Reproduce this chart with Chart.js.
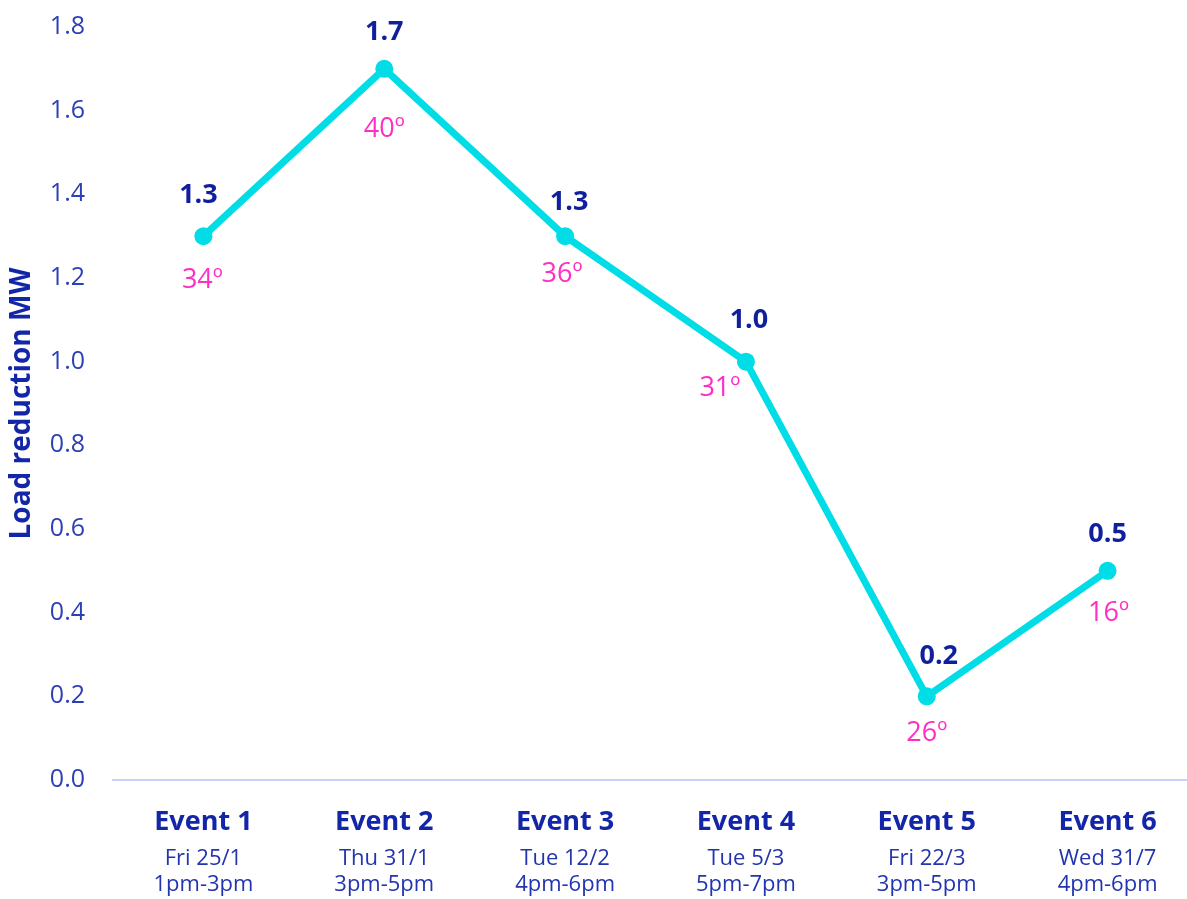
<!DOCTYPE html>
<html>
<head>
<meta charset="utf-8">
<script src="https://cdn.jsdelivr.net/npm/chart.js@4/dist/chart.umd.min.js"></script>
<style>
  html, body { margin: 0; padding: 0; background: #ffffff; overflow: hidden; }
  #wrap { width: 1187px; height: 899px; overflow: hidden; position: relative; }
  canvas { display: block; }
</style>
</head>
<body>
<div id="wrap"><canvas id="c" width="1207" height="899"></canvas></div>
<script>
// ---- Data ----
const events = ["Event 1", "Event 2", "Event 3", "Event 4", "Event 5", "Event 6"];
const eventDates = [
  ["Fri 25/1", "1pm-3pm"],
  ["Thu 31/1", "3pm-5pm"],
  ["Tue 12/2", "4pm-6pm"],
  ["Tue 5/3", "5pm-7pm"],
  ["Fri 22/3", "3pm-5pm"],
  ["Wed 31/7", "4pm-6pm"]
];
const loadReductionMW = [1.3, 1.7, 1.3, 1.0, 0.2, 0.5];
const temperatures = ["34º", "40º", "36º", "31º", "26º", "16º"];
const yTicks = { min: 0, max: 1.8, step: 0.2 };

// ---- Label placement (style only) ----
const valueNudge = [[-5, -41], [0, -37], [4, -34], [3, -41], [12, -40], [0, -37]];
const tempNudge = [[-1, 44], [0, 60], [-3, 38], [-26, 27], [0, 37], [1, 42]];

const FONT = "'Open Sans', 'Noto Sans', sans-serif";

const pointLabels = {
  id: 'pointLabels',
  afterDatasetsDraw(chart) {
    const meta = chart.getDatasetMeta(0);
    const ctx = chart.ctx;
    ctx.save();
    ctx.textAlign = 'center';
    ctx.textBaseline = 'middle';
    meta.data.forEach((pt, i) => {
      ctx.font = `bold 27px ${FONT}`;
      ctx.fillStyle = '#0f1f9e';
      ctx.fillText(loadReductionMW[i].toFixed(1), pt.x + valueNudge[i][0], pt.y + valueNudge[i][1]);
      ctx.font = `27px ${FONT}`;
      ctx.fillStyle = '#ff2fc4';
      ctx.fillText(temperatures[i], pt.x + tempNudge[i][0], pt.y + tempNudge[i][1]);
    });
    ctx.restore();
  }
};

new Chart(document.getElementById('c'), {
  type: 'line',
  data: {
    labels: events,
    datasets: [{
      data: loadReductionMW,
      borderColor: '#00dde6',
      backgroundColor: '#00dde6',
      borderWidth: 7,
      pointRadius: 9,
      pointHoverRadius: 9,
      pointBackgroundColor: '#00dde6',
      pointBorderWidth: 0,
      tension: 0,
      fill: false,
      xAxisID: 'x'
    }]
  },
  options: {
    responsive: false,
    animation: false,
    events: [],
    layout: { padding: { top: 27, left: 0, right: 0, bottom: 0 } },
    plugins: { legend: { display: false }, tooltip: { enabled: false } },
    scales: {
      x: {
        type: 'category',
        position: 'bottom',
        offset: true,
        grid: { display: false, drawTicks: false },
        border: { display: true, color: '#c9d0fb', width: 2 },
        ticks: {
          padding: 26,
          color: '#1426a8',
          font: { family: FONT, size: 27, weight: 'bold' },
          maxRotation: 0, autoSkip: false
        },
        afterFit(s) { s.height = 61; }
      },
      x2: {
        type: 'category',
        position: 'bottom',
        labels: eventDates,
        offset: true,
        grid: { display: false, drawTicks: false },
        border: { display: false },
        ticks: {
          padding: 5,
          color: '#2234b0',
          font: { family: FONT, size: 22, lineHeight: 1.18 },
          maxRotation: 0, autoSkip: false
        },
        afterFit(s) { s.height = 58; }
      },
      y: {
        min: yTicks.min,
        max: yTicks.max,
        grid: { display: false, drawTicks: false },
        border: { display: false },
        ticks: {
          stepSize: yTicks.step,
          padding: 28,
          color: '#2b3fb6',
          font: { family: FONT, size: 25 },
          callback: v => Number(v).toFixed(1)
        },
        title: {
          display: true,
          text: 'Load reduction MW',
          color: '#1426a8',
          font: { family: FONT, size: 28, weight: 'bold' },
          padding: { top: 5, bottom: 0 }
        },
        afterFit(s) { s.width = 113; s.paddingTop = 0; s.paddingBottom = 0; }
      }
    }
  },
  plugins: [pointLabels]
});
</script>
</body>
</html>
